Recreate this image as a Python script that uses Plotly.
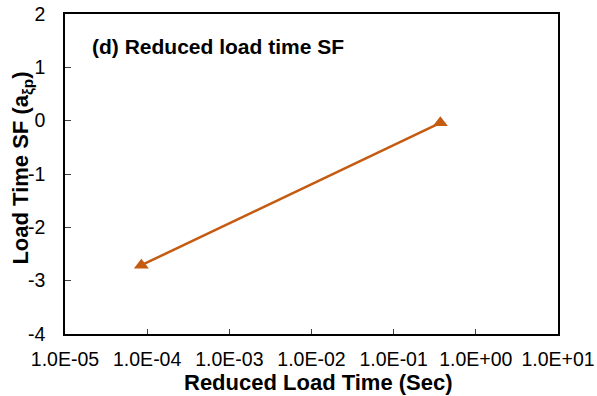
import plotly.graph_objects as go

x_vals = [8.5e-5, 0.37]
y_vals = [-2.71, -0.04]
x_tickvals = [1e-5, 1e-4, 1e-3, 1e-2, 1e-1, 1e0, 1e1]
x_ticktext = ["1.0E-05", "1.0E-04", "1.0E-03", "1.0E-02", "1.0E-01", "1.0E+00", "1.0E+01"]
y_tickvals = [-4, -3, -2, -1, 0, 1, 2]
y_ticktext = ["-4", "-3", "-2", "-1", "0", "1", "2"]

color = "#C55A11"
font = "Liberation Sans, Arial, sans-serif"

fig = go.Figure()
fig.add_trace(go.Scatter(
    x=x_vals, y=y_vals, mode="lines+markers",
    line=dict(color=color, width=2.5),
    marker=dict(symbol="triangle-up", size=13, color=color),
    showlegend=False,
))

fig.update_layout(
    width=597, height=396,
    margin=dict(l=65, r=39, t=14, b=62),
    paper_bgcolor="white", plot_bgcolor="white",
    font=dict(family=font, size=19.5, color="black"),
    xaxis=dict(
        type="log", range=[-5, 1], automargin=False,
        tickvals=x_tickvals, ticktext=x_ticktext,
        ticks="inside", ticklen=5, tickwidth=1, tickcolor="#404040",
        showline=True, linecolor="black", linewidth=1.5, mirror=True,
        showgrid=False, zeroline=False,
        tickfont=dict(size=19.5),
        ticklabelstandoff=7,
    ),
    yaxis=dict(
        range=[-4, 2], automargin=False,
        tickvals=y_tickvals, ticktext=y_ticktext,
        ticks="inside", ticklen=6, tickwidth=1, tickcolor="#404040",
        showline=True, linecolor="black", linewidth=1.5, mirror=True,
        showgrid=False, zeroline=False,
        tickfont=dict(size=19.5),
        ticklabelstandoff=14,
    ),
    annotations=[
        dict(
            text="<b>(d) Reduced load time SF</b>",
            xref="paper", yref="paper", x=0.05, y=0.897,
            xanchor="left", yanchor="middle", showarrow=False,
            font=dict(size=21, family=font, color="black"),
        ),
        dict(
            text="<b>Reduced Load Time (Sec)</b>",
            xref="paper", yref="paper", x=0.514, y=-0.153,
            xanchor="center", yanchor="middle", showarrow=False, borderpad=0,
            font=dict(size=22, family=font, color="black"),
        ),
        dict(
            text="<b>Load Time SF (a<sub>ξp</sub>)</b>",
            xref="paper", yref="paper", x=-0.0872, y=0.517,
            xanchor="center", yanchor="middle", showarrow=False, textangle=-90,
            font=dict(size=22, family=font, color="black"),
        ),
    ],
)

fig.write_html("out.html")
